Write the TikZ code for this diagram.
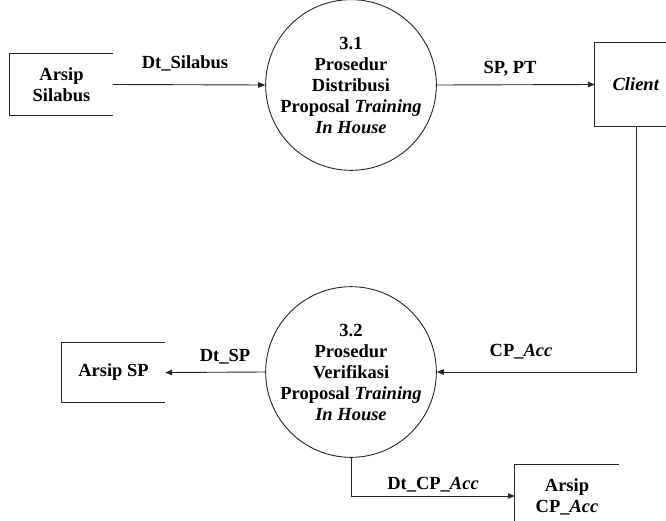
\documentclass[tikz,border=0pt]{standalone}
\usepackage{fontspec}
\setmainfont{Liberation Serif}
\usetikzlibrary{arrows.meta}
\tikzset{
  flow/.style={draw=black!85, line width=0.9pt, -{Triangle[length=7pt,width=5.5pt]}},
  edge/.style={draw=black!85, line width=0.9pt},
  proc/.style={circle, draw=black!85, line width=0.9pt, minimum size=146pt, inner sep=0pt,
    align=center, font=\fontsize{18.5}{21}\selectfont\bfseries},
  store/.style={inner sep=0pt, align=center, font=\fontsize{18.5}{21}\selectfont\bfseries},
  lbl/.style={inner sep=0pt, font=\fontsize{18.5}{21}\selectfont\bfseries},
}
\begin{document}
\begin{tikzpicture}[x=1pt, y=-1pt]
\useasboundingbox (0,0) rectangle (666,520);
\clip (0,0) rectangle (666,520);

% processes
\node[proc] (p31) at (351,85) {3.1\\Prosedur\\Distribusi\\Proposal \textit{Training}\\\textit{In House}};
\node[proc] (p32) at (351,372) {3.2\\Prosedur\\Verifikasi\\Proposal \textit{Training}\\\textit{In House}};

% data stores and external entity
\node[store, minimum width=103pt, minimum height=61pt] (silabus) at (61.5,84.5) {Arsip\\Silabus};
\node[store, minimum width=103pt, minimum height=59pt] (arsipsp) at (113.5,372.5) {Arsip SP};
\node[store, minimum width=82pt, minimum height=83pt] (client) at (636,84.5) {\textit{Client}};
\node[store, minimum width=104pt, minimum height=70pt] (arsipcp) at (567,500) {};
\node[store] (arsipcptxt) at (567,497) {Arsip\\CP\_\textit{Acc}};

% open-ended store outlines
\draw[edge] (silabus.north east) -- (silabus.north west) -- (silabus.south west) -- (silabus.south east);
\draw[edge] (arsipsp.north east) -- (arsipsp.north west) -- (arsipsp.south west) -- (arsipsp.south east);
\draw[edge] (client.north east) -- (client.north west) -- (client.south west) -- (client.south east);
\draw[edge] (arsipcp.north east) -- (arsipcp.north west) -- (arsipcp.south west);

% data flows
\draw[flow] (silabus.east) -- (p31.west);
\draw[flow] (p31.east) -- (client.west);
\draw[flow] (client.south) |- (p32.east);
\draw[flow] (p32.west) -- (arsipsp.east);
\coordinate (cpin) at (arsipcp.west |- 0,496);
\draw[flow] (p32.south) |- (cpin);

% flow labels
\node[lbl] (l1) at (185,63) {Dt\_Silabus};
\node[lbl] (l2) at (510,69) {SP, PT};
\node[lbl] (l3) at (225,357) {Dt\_SP};
\node[lbl] (l4) at (521,352) {CP\_\textit{Acc}};
\node[lbl] (l5) at (433,485) {Dt\_CP\_\textit{Acc}};
\end{tikzpicture}
\end{document}
